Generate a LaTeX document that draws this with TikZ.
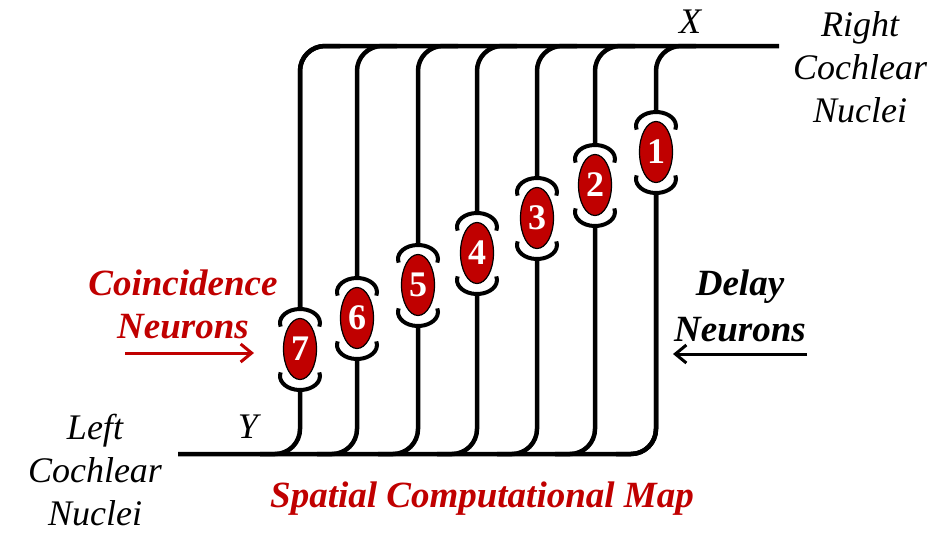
\documentclass[tikz,border=0pt]{standalone}
\usepackage{fontspec}
\setmainfont{Liberation Serif}
\usetikzlibrary{arrows.meta,calc,shapes.geometric}

\definecolor{nred}{RGB}{192,0,0}

\newcommand*{\ytop}{46}
\newcommand*{\ybot}{454}
\newcommand*{\xleft}{178}
\newcommand*{\xright}{779}

\begin{document}
\begin{tikzpicture}[x=1pt,y=-1pt,
	wire/.style={line width=4.5pt, rounded corners=25pt},
	arcline/.style={line width=4pt},
	neuron/.style={ellipse, draw=black, line width=1.2pt, fill=nred, minimum width=33pt, minimum height=61pt, inner sep=0pt, text=white, font=\fontsize{36}{36}\selectfont\bfseries},
	plaintxt/.style={font=\fontsize{36}{43}\selectfont\itshape, align=center},
	redtxt/.style={text=nred, font=\fontsize{37}{43}\selectfont\bfseries\itshape, align=center},
	boldtxt/.style={font=\fontsize{37}{46}\selectfont\bfseries\itshape, align=center},
	sidearrow/.style={line width=3pt, -{Straight Barb[length=11pt,width=18pt,line width=3pt]}}]

	\useasboundingbox (0,0) rectangle (948,539);

	% neurons with their delay lines
	\foreach \n/\x/\y in {1/656/152, 2/595/185, 3/537/218, 4/477/253, 5/418/285, 6/357/318, 7/300/349} {
		\node[neuron] (n\n) at (\x,\y) {\n};
		\draw[arcline] ($(n\n)+(0,-26)$) ++(165:20 and 14) arc[start angle=165, end angle=375, x radius=20, y radius=14];
		\draw[arcline] ($(n\n)+(0,27)$) ++(195:20 and 14) arc[start angle=195, end angle=-15, x radius=20, y radius=14];
		\coordinate (t\n) at ({\x+40},\ytop);
		\coordinate (b\n) at ({\x-40},\ybot);
		\draw[wire] ($(n\n)+(0,-40)$) |- (t\n);
		\draw[wire] ($(n\n)+(0,41)$) |- (b\n);
	}

	% cochlear nuclei lines
	\coordinate (rcn) at (\xright,\ytop);
	\coordinate (lcn) at (\xleft,\ybot);
	\draw[wire] ($(n7)+(0,-40)$) |- (rcn);
	\draw[wire] ($(n1)+(0,41)$) |- (lcn);

	\node[plaintxt, anchor=base] (xlbl) at (690,33) {X};
	\node[plaintxt, anchor=base] (ylbl) at (248,438) {Y};
	\node[plaintxt] (right) at (860,67) {Right\\Cochlear\\Nuclei};
	\node[plaintxt] (left) at (95,470) {Left\\Cochlear\\Nuclei};

	\node[redtxt] (coin) at (183,304) {Coincidence\\Neurons};
	\node[boldtxt] (delay) at (740,306) {Delay\\Neurons};
	\node[redtxt] (map) at (482,499) {Spatial Computational Map};

	% arrows
	\coordinate (cn-tail) at (125,353);
	\coordinate (cn-head) at (254,353);
	\coordinate (dn-tail) at (807,354);
	\coordinate (dn-head) at (673,354);
	\draw[sidearrow, nred] (cn-tail) -- (cn-head);
	\draw[sidearrow] (dn-tail) -- (dn-head);

\end{tikzpicture}
\end{document}
